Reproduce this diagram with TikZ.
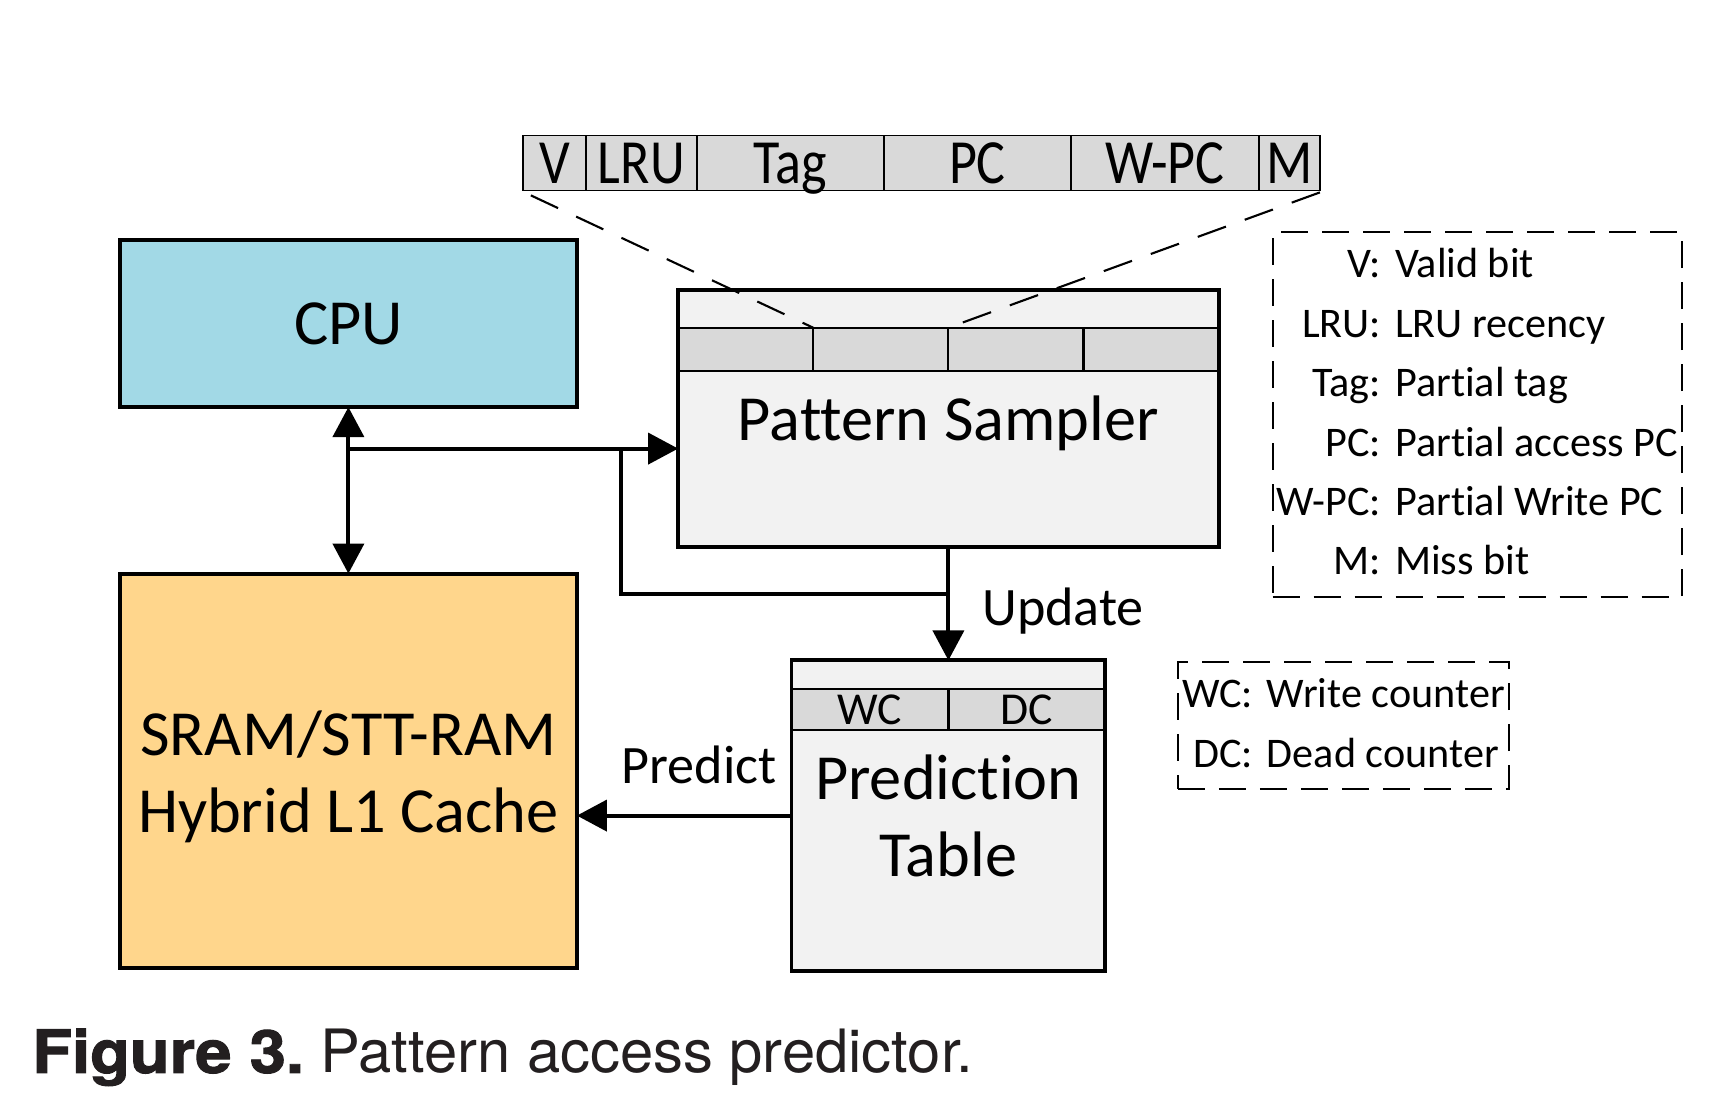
\documentclass[tikz,border=0pt]{standalone}
\usepackage{fontspec}
\setmainfont{Carlito}[Ligatures=NoCommon]
\newfontfamily\fieldsfont[FakeStretch=0.86, Ligatures=NoCommon]{Carlito}
\newfontfamily\figcapfont{TeX Gyre Heros}[BoldFeatures={FakeBold=1.6}]
\usepackage{tikz}
\usetikzlibrary{arrows.meta}
\usetikzlibrary{positioning}

\definecolor{cpublue}{HTML}{A2D9E6}
\definecolor{cacheorange}{HTML}{FFD68C}
\definecolor{panelgray}{HTML}{F2F2F2}
\definecolor{cellgray}{HTML}{D9D9D9}
\definecolor{captiongray}{HTML}{231F20}

\newcommand{\blockfont}{\fontsize{18.3}{21.9}\selectfont}
\newcommand{\notefont}{\fontsize{15.4}{18}\selectfont}
\newcommand{\keyfont}{\fontsize{12}{16.9}\selectfont}

\begin{document}
\begin{tikzpicture}[>={Triangle[length=3mm,width=3.1mm]}, node distance=6cm, thick]
      \tikzstyle{line} = [line width=1.1pt, ->]
      \tikzstyle{main box} = [draw, line width=1.1pt, outer sep=0pt, align=center, font=\blockfont]
      \tikzstyle{field} = [draw, line width=0.5pt, fill=cellgray, outer sep=0pt, inner sep=0pt, minimum height=5.5mm,
         text height=11.5pt, text depth=0pt, font=\fieldsfont\fontsize{17.9}{20}\selectfont]
      \tikzstyle{slot} = [draw, line width=0.6pt, fill=cellgray, outer sep=0pt, inner sep=0pt,
         text height=8.4pt, text depth=0pt, font=\fontsize{13}{15}\selectfont]
      \tikzstyle{key box} = [draw, line width=0.6pt, dash pattern=on 2.7mm off 1.4mm, inner sep=0pt, font=\keyfont]
      \tikzstyle{zoom line} = [line width=0.6pt, dash pattern=on 3mm off 2mm]
      \tikzstyle{note} = [inner sep=0pt, font=\notefont]
      \useasboundingbox (-3.484,3.236) rectangle (13.776,-7.944);
      %nodes
      \node[main box, fill=cpublue, minimum width=45.7mm, minimum height=16.7mm]         (cpu)                                       {CPU};
      \node[main box, fill=cacheorange, minimum width=45.7mm, minimum height=39.4mm]     (cache)   [below of=cpu, yshift=15.3mm]     {};
      \node[align=center, font=\blockfont]                                               (cachetext) at ([yshift=-0.6mm]cache.center) {SRAM/STT-RAM\\Hybrid L1 Cache};
      \node[main box, fill=panelgray, minimum width=54.05mm, minimum height=25.65mm, text depth=0pt] (sampler) [right of=cpu, yshift=-9.5mm] {Pattern Sampler};
      \node[main box, fill=panelgray, minimum width=31.37mm, minimum height=31.04mm]     (table)   [below of=sampler, yshift=20.3mm] {Prediction\\Table};
      %sampler entry
      \node[slot, minimum width=13.51mm, minimum height=4.3mm, anchor=north west] (s1) at ([yshift=-3.74mm]sampler.north west) {};
      \node[slot, minimum width=13.51mm, minimum height=4.3mm, anchor=west]       (s2) at (s1.east) {};
      \node[slot, minimum width=13.51mm, minimum height=4.3mm, anchor=west]       (s3) at (s2.east) {};
      \node[slot, minimum width=13.51mm, minimum height=4.3mm, anchor=west]       (s4) at (s3.east) {};
      \draw[line width=1.1pt] (sampler.north west) rectangle (sampler.south east);
      %table entry
      \node[slot, minimum width=15.69mm, minimum height=4.07mm, anchor=north west] (wc) at ([yshift=-2.86mm]table.north west) {WC};
      \node[slot, minimum width=15.69mm, minimum height=4.07mm, anchor=west]       (dc) at (wc.east) {DC};
      \draw[line width=1.1pt] (table.north west) rectangle (table.south east);
      %fields
      \node[field, minimum width=6.3mm, anchor=west]  (fv)   at (1.745,1.607) {V};
      \node[field, minimum width=11.1mm, anchor=west] (flru) at (fv.east)     {LRU};
      \node[field, minimum width=18.7mm, anchor=west] (ftag) at (flru.east)   {Tag};
      \node[field, minimum width=18.7mm, anchor=west] (fpc)  at (ftag.east)   {PC};
      \node[field, minimum width=18.8mm, anchor=west] (fwpc) at (fpc.east)    {W-PC};
      \node[field, minimum width=6.1mm, anchor=west]  (fm)   at (fwpc.east)   {M};
      %keys
      \node[key box, minimum width=40.95mm, minimum height=36.43mm] (keys) [right of=sampler, xshift=-7.1mm, yshift=0.4mm]
         {\begin{tabular}{@{}r@{\hspace{4pt}}l@{}}
            V: & Valid bit\\
            LRU: & LRU recency\\
            Tag: & Partial tag\\
            PC: & Partial access PC\\
            W-PC: & Partial Write PC\\
            M: & Miss bit
          \end{tabular}};
      \node[key box, minimum width=33.13mm, minimum height=12.66mm] (counters) [right of=table, xshift=-20.5mm, yshift=9mm]
         {\begin{tabular}{@{}r@{\hspace{4pt}}l@{}}
            WC: & Write counter\\
            DC: & Dead counter
          \end{tabular}};
      \node[anchor=base west, inner sep=0pt, text=captiongray, font=\figcapfont\fontsize{17}{20}\selectfont] (caption)
         at ([xshift=-8.9mm, yshift=-10.54mm]cache.south west) {\scalebox{1.09}[1]{\bfseries Figure 3.} Pattern access predictor.};
      %lines
      \coordinate (inpt)   at ([yshift=-3mm]sampler.west);
      \coordinate (tap)    at (cpu.south |- inpt);
      \coordinate (fbtop)  at ([xshift=-5.7mm]inpt);
      \coordinate (fbjoin) at ([yshift=-4.7mm]sampler.south);
      \path [line, <->] (cpu) edge (cache);
      \path [line] (tap) edge (inpt);
      \draw [line, -] (fbtop) |- (fbjoin);
      \path [line] (sampler) edge node [note, right=3.2mm, yshift=-0.7mm] {Update} (table);
      \path [line] (table.west) edge node [note, pos=0, above left=3mm and 1.3mm] {Predict} (table.west -| cache.east);
      \path [zoom line] ([shift={(0.8mm,-0.5mm)}]fv.south west) edge (s2.north west);
      \path [zoom line] ([yshift=-0.2mm]fm.south east) edge (s3.north west);
    \end{tikzpicture}
\end{document}
